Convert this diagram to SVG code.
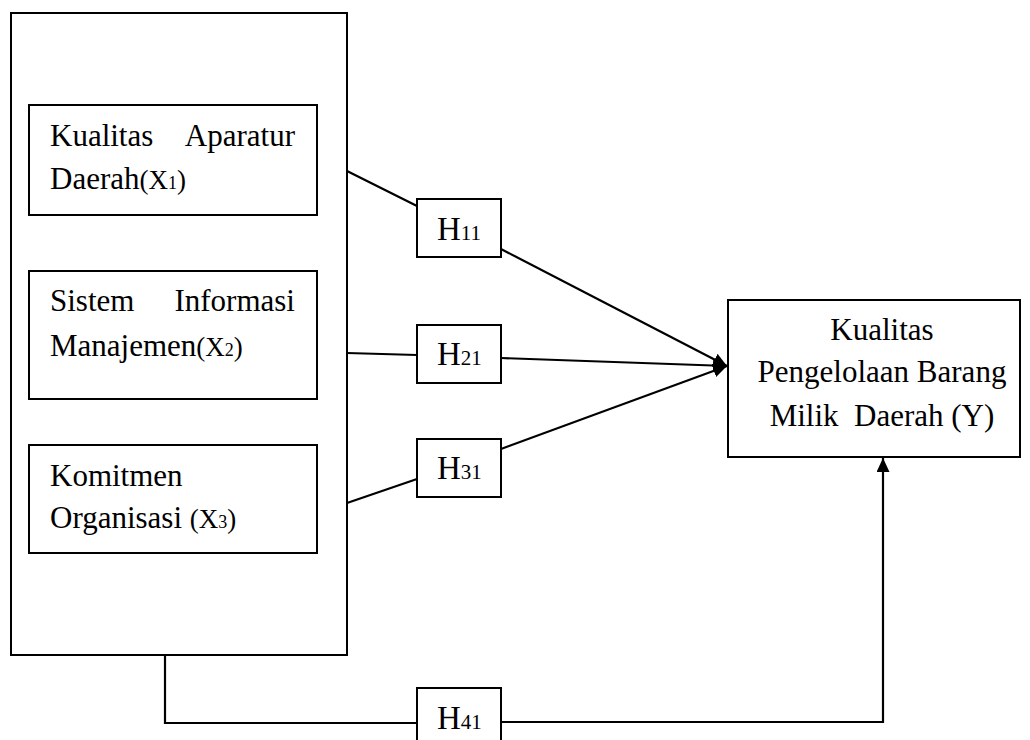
<svg xmlns="http://www.w3.org/2000/svg" width="1030" height="740" viewBox="0 0 1030 740">
<style>
.box{fill:#fff;stroke:#000;stroke-width:2}
.ln{fill:none;stroke:#000;stroke-width:2.2}
.t{font-family:"Liberation Serif","Times New Roman",serif;font-size:31px;fill:#000;white-space:pre}
.s1{font-size:27px}
.s2{font-size:18px}
.h{font-family:"Liberation Serif","Times New Roman",serif;font-size:33px;fill:#000}
.hs{font-size:21px}
</style>
<defs>
<marker id="arr" markerUnits="userSpaceOnUse" markerWidth="15" markerHeight="13" refX="14" refY="6.5" orient="auto">
<path d="M0,0 L14,6.5 L0,13 z" fill="#000"/>
</marker>
</defs>
<rect width="1030" height="740" fill="#fff"/>
<g id="connectors">
<line class="ln" x1="347" y1="171" x2="417" y2="206"/>
<line class="ln" x1="501" y1="249" x2="727" y2="366" marker-end="url(#arr)"/>
<line class="ln" x1="347" y1="353" x2="417" y2="355"/>
<line class="ln" x1="501" y1="358" x2="727" y2="366" marker-end="url(#arr)"/>
<line class="ln" x1="347" y1="503" x2="417" y2="479"/>
<line class="ln" x1="501" y1="449" x2="727" y2="366" marker-end="url(#arr)"/>
<polyline class="ln" points="165,655 165,723 417,723"/>
<polyline class="ln" points="501,722 883,722 883,458" marker-end="url(#arr)"/>
</g>
<g id="outer">
<rect class="box" x="11" y="13" width="336" height="642"/>
</g>
<g id="x1">
<rect class="box" x="29" y="105" width="288" height="110"/>
<text class="t" x="50" y="146">Kualitas</text>
<text class="t" x="295" y="146" text-anchor="end">Aparatur</text>
<text class="t" x="50" y="189">Daerah<tspan class="s1">(X</tspan><tspan class="s2">1</tspan><tspan class="s1">)</tspan></text>
</g>
<g id="x2">
<rect class="box" x="29" y="271" width="288" height="128"/>
<text class="t" x="50" y="311">Sistem</text>
<text class="t" x="295" y="311" text-anchor="end">Informasi</text>
<text class="t" x="50" y="356">Manajemen<tspan class="s1">(X</tspan><tspan class="s2">2</tspan><tspan class="s1">)</tspan></text>
</g>
<g id="x3">
<rect class="box" x="29" y="445" width="288" height="108"/>
<text class="t" x="50" y="486">Komitmen</text>
<text class="t" x="50" y="528">Organisasi <tspan class="s1">(X</tspan><tspan class="s2">3</tspan><tspan class="s1">)</tspan></text>
</g>
<g id="h11">
<rect class="box" x="417" y="199" width="84" height="58"/>
<text class="h" x="437" y="240">H<tspan class="hs">11</tspan></text>
</g>
<g id="h21">
<rect class="box" x="417" y="325" width="84" height="58"/>
<text class="h" x="437" y="365">H<tspan class="hs">21</tspan></text>
</g>
<g id="h31">
<rect class="box" x="417" y="439" width="84" height="58"/>
<text class="h" x="437" y="479">H<tspan class="hs">31</tspan></text>
</g>
<g id="h41">
<rect class="box" x="417" y="688" width="84" height="60"/>
<text class="h" x="437" y="729">H<tspan class="hs">41</tspan></text>
</g>
<g id="y">
<rect class="box" x="728" y="300" width="292" height="157"/>
<text class="t" x="882" y="340" text-anchor="middle">Kualitas</text>
<text class="t" x="882" y="382" text-anchor="middle">Pengelolaan Barang</text>
<text class="t" x="882" y="426" text-anchor="middle">Milik  Daerah (Y)</text>
</g>
</svg>
